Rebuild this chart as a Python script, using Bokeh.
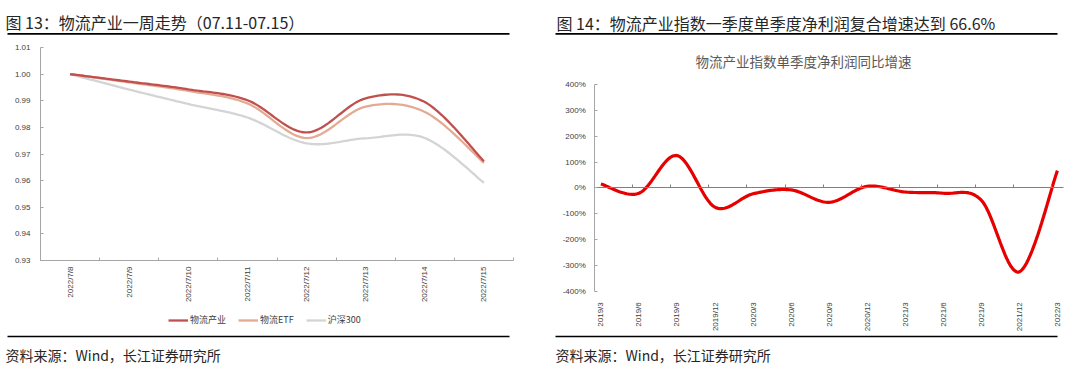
import math
import numpy as np
from bokeh.plotting import figure
from bokeh.models import (FixedTicker, PrintfTickFormatter, Label, BoxAnnotation,
                          Legend, LegendItem, Range1d, LinearAxis)
from bokeh.layouts import row
from bokeh.embed import file_html
from bokeh.resources import INLINE

# ---------------- data ----------------
dates = ["2022/7/8", "2022/7/9", "2022/7/10", "2022/7/11",
         "2022/7/12", "2022/7/13", "2022/7/14", "2022/7/15"]
logistics = [1.000, 0.9972, 0.9943, 0.9902, 0.9781, 0.9909, 0.9895, 0.9673]
logistics_etf = [1.000, 0.9969, 0.9937, 0.9890, 0.9760, 0.9878, 0.9858, 0.9667]
hs300 = [1.000, 0.9942, 0.9888, 0.9837, 0.9740, 0.9759, 0.9760, 0.9592]
left_yticks = [0.93, 0.94, 0.95, 0.96, 0.97, 0.98, 0.99, 1.00, 1.01]

quarters = ["2019/3", "2019/6", "2019/9", "2019/12", "2020/3", "2020/6", "2020/9",
            "2020/12", "2021/3", "2021/6", "2021/9", "2021/12", "2022/3"]
profit_growth = [15, -21, 125, -75, -23, -8, -56, 6, -16, -21, -48, -325, 66.6]
right_yticks = [-400, -300, -200, -100, 0, 100, 200, 300, 400]

CJK = "Noto Sans CJK SC"
NUM = "Liberation Sans"
H = 366  # canvas height of both figures


def smooth(xs, ys, n=24):
    """Excel-like smoothed line (Catmull-Rom style Bezier) through the points."""
    P = [np.array([x, y], dtype=float) for x, y in zip(xs, ys)]
    N = len(P)
    ox, oy = [], []
    for i in range(N - 1):
        p0 = P[i - 1] if i > 0 else P[i]
        p1, p2 = P[i], P[i + 1]
        p3 = P[i + 2] if i + 2 < N else P[i + 1]
        c1 = p1 + (p2 - p0) / 6.0
        c2 = p2 - (p3 - p1) / 6.0
        ts = np.linspace(0, 1, n, endpoint=(i == N - 2))
        for t in ts:
            b = ((1 - t) ** 3) * p1 + 3 * ((1 - t) ** 2) * t * c1 + 3 * (1 - t) * t * t * c2 + t ** 3 * p2
            ox.append(float(b[0])); oy.append(float(b[1]))
    return ox, oy


def frame_range(v0, v1, px0, px1, size, flip=False):
    """Range over the whole canvas so that value v0 sits at pixel px0 and v1 at px1."""
    k = (v1 - v0) / (px1 - px0)
    if not flip:
        return Range1d(v0 - px0 * k, v0 + (size - px0) * k)
    return Range1d(v0 - (size - px0) * (-k), v0 + px0 * (-k))


def make_fig(w, xr, yr):
    p = figure(width=w, height=H, x_range=xr, y_range=yr, output_backend="svg",
               toolbar_location=None, x_axis_location=None, y_axis_location=None,
               min_border=0)
    p.outline_line_color = None
    p.xgrid.visible = False
    p.ygrid.visible = False
    p.background_fill_color = "white"
    p.border_fill_color = "white"
    return p


def add_text(p, x, y_top, text, size, color="#262626", font=CJK, align="left"):
    p.add_layout(Label(x=x, y=H - y_top, x_units="screen", y_units="screen", text=text,
                       text_font=font, text_font_size=size, text_color=color,
                       text_baseline="middle", text_align=align))


def add_rule(p, left, right, y_top, thick=1.5):
    y = H - y_top
    p.add_layout(BoxAnnotation(left=left, right=right, bottom=y - thick / 2, top=y + thick / 2,
                               left_units="screen", right_units="screen",
                               bottom_units="screen", top_units="screen",
                               fill_color="black", fill_alpha=1.0, line_color=None,
                               line_alpha=0))


def style_axis(ax):
    ax.major_label_text_font = NUM
    ax.major_label_text_font_size = "8px"
    ax.major_label_text_color = "#404040"
    ax.axis_line_color = "#A6A6A6"
    ax.major_tick_line_color = "#A6A6A6"
    ax.minor_tick_line_color = None


# ---------------- left chart ----------------
n_d = len(dates)
xr1 = frame_range(-0.5, n_d - 0.5, 40, 513, 540)
yr1 = frame_range(0.93, 1.01, 260, 47, H, flip=True)
p1 = make_fig(540, xr1, yr1)

xi = list(range(n_d))
colors = ["#C0504D", "#E3AA94", "#D4D4D4"]
series = [logistics, logistics_etf, hs300]
renderers = [None, None, None]
for k in (2, 1, 0):
    sx, sy = smooth(xi, series[k])
    renderers[k] = p1.line(sx, sy, line_color=colors[k], line_width=2.3)

ya1 = LinearAxis(fixed_location=-0.5, bounds=(0.93, 1.01),
                 ticker=FixedTicker(ticks=left_yticks),
                 formatter=PrintfTickFormatter(format="%.2f"))
style_axis(ya1)
ya1.major_tick_in = 3
ya1.major_tick_out = 0
ya1.major_label_standoff = 10
p1.add_layout(ya1, "left")

xa1 = LinearAxis(fixed_location=0.93, bounds=(-0.5, n_d - 0.5),
                 ticker=FixedTicker(ticks=xi, minor_ticks=[i - 0.5 for i in range(n_d + 1)]),
                 major_label_overrides={i: d for i, d in enumerate(dates)},
                 major_label_orientation=math.pi / 2)
style_axis(xa1)
xa1.minor_tick_line_color = "#A6A6A6"
xa1.major_tick_in = 0
xa1.major_tick_out = 0
xa1.minor_tick_in = 3
xa1.minor_tick_out = 0
xa1.major_label_standoff = 6
p1.add_layout(xa1, "below")

legend = Legend(items=[LegendItem(label=l, renderers=[r]) for l, r in
                       zip(["物流产业", "物流ETF", "沪深300"], renderers)],
                orientation="horizontal", location=(168, 40),
                label_text_font=CJK, label_text_font_size="9px", label_text_color="#404040",
                glyph_width=20, glyph_height=10, label_standoff=2, spacing=12,
                padding=2, margin=0, border_line_color=None, background_fill_alpha=0)
p1.add_layout(legend)

add_text(p1, 5, 21, "图 13：物流产业一周走势（07.11-07.15）", "16px")
add_rule(p1, 7, 509, 33.3, 1.8)
add_rule(p1, 7, 509, 336, 1.5)
add_text(p1, 5, 354, "资料来源：Wind，长江证券研究所", "14px")

# ---------------- right chart ----------------
n_q = len(quarters)
xr2 = frame_range(-0.16, n_q - 1 + 0.16, 54.3, 523, 524)
yr2 = frame_range(-400, 400, 290.7, 84, H, flip=True)
p2 = make_fig(524, xr2, yr2)

qi = list(range(n_q))
sx, sy = smooth(qi, profit_growth)
p2.line(sx, sy, line_color="#E60000", line_width=3.2)

ya2 = LinearAxis(fixed_location=-0.16, bounds=(-400, 400),
                 ticker=FixedTicker(ticks=right_yticks),
                 formatter=PrintfTickFormatter(format="%d%%"))
style_axis(ya2)
ya2.major_tick_in = 3
ya2.major_tick_out = 0
ya2.major_label_standoff = 9
p2.add_layout(ya2, "left")

# zero line with its tick marks
za2 = LinearAxis(fixed_location=0, bounds=(-0.16, n_q - 1 + 0.16),
                 ticker=FixedTicker(ticks=[k - 0.16 for k in range(1, n_q)]),
                 major_label_overrides={k - 0.16: "" for k in range(1, n_q)})
style_axis(za2)
za2.axis_line_color = "#7F7F7F"
za2.major_tick_line_color = "#7F7F7F"
za2.major_tick_in = 3
za2.major_tick_out = 0
za2.major_label_text_font_size = "1px"
za2.major_label_text_alpha = 0
p2.add_layout(za2, "below")

xa2 = LinearAxis(fixed_location=-400, bounds=(-0.16, n_q - 1 + 0.16),
                 ticker=FixedTicker(ticks=qi),
                 major_label_overrides={i: q for i, q in enumerate(quarters)},
                 major_label_orientation=math.pi / 2)
style_axis(xa2)
xa2.axis_line_color = None
xa2.major_tick_line_color = None
xa2.major_label_standoff = 5
p2.add_layout(xa2, "below")

add_text(p2, 16, 22, "图 14：物流产业指数一季度单季度净利润复合增速达到 66.6%", "16px")
add_rule(p2, 15, 517, 33.3, 1.8)
add_text(p2, 263, 60, "物流产业指数单季度净利润同比增速", "13.5px", color="#595959", align="center")
add_rule(p2, 15, 517, 336, 1.5)
add_text(p2, 15, 354, "资料来源：Wind，长江证券研究所", "14px")

layout = row(p1, p2)
open("out.html", "w").write(file_html(layout, INLINE))
